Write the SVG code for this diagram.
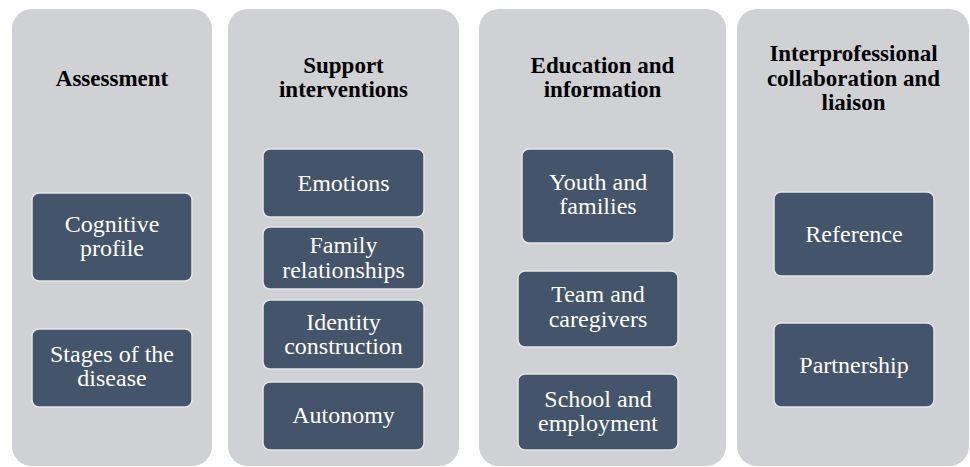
<svg xmlns="http://www.w3.org/2000/svg" width="970" height="467" viewBox="0 0 970 467" font-family="Liberation Serif, Times New Roman, serif">
<style>
.panel{fill:#d0d1d5;}
.box{fill:#44546a;stroke:#e4e5e8;stroke-width:1.5;}
.hd{font-weight:bold;font-size:23px;fill:#000;text-anchor:middle;}
.tx{font-size:24px;fill:#ffffff;text-anchor:middle;}
</style>
<rect width="970" height="467" fill="#ffffff"/>
<g id="assessment">
<rect class="panel" x="12" y="9" width="200" height="457" rx="20"/>
<text class="hd" x="112" y="86">Assessment</text>
</g>
<g id="cognitive-profile">
<rect class="box" x="32" y="193" width="160" height="88" rx="7"/>
<text class="tx" x="112" y="231.5">Cognitive</text>
<text class="tx" x="112" y="255.5">profile</text>
</g>
<g id="stages">
<rect class="box" x="32" y="329" width="160" height="78" rx="7"/>
<text class="tx" x="112" y="361.5">Stages of the</text>
<text class="tx" x="112" y="386">disease</text>
</g>
<g id="support">
<rect class="panel" x="228" y="9" width="231" height="457" rx="20"/>
<text class="hd" x="343.5" y="72.5">Support</text>
<text class="hd" x="343.5" y="97">interventions</text>
</g>
<g id="emotions">
<rect class="box" x="263" y="149" width="161" height="68" rx="7"/>
<text class="tx" x="343.5" y="190.5">Emotions</text>
</g>
<g id="family">
<rect class="box" x="263" y="227" width="161" height="62" rx="7"/>
<text class="tx" x="343.5" y="253">Family</text>
<text class="tx" x="343.5" y="278">relationships</text>
</g>
<g id="identity">
<rect class="box" x="263" y="300" width="161" height="69" rx="7"/>
<text class="tx" x="343.5" y="330">Identity</text>
<text class="tx" x="343.5" y="354">construction</text>
</g>
<g id="autonomy">
<rect class="box" x="263" y="382" width="161" height="68" rx="7"/>
<text class="tx" x="343.5" y="422.5">Autonomy</text>
</g>
<g id="education">
<rect class="panel" x="479" y="9" width="247" height="457" rx="20"/>
<text class="hd" x="602.5" y="72.5">Education and</text>
<text class="hd" x="602.5" y="97">information</text>
</g>
<g id="youth">
<rect class="box" x="522" y="149" width="152" height="94" rx="7"/>
<text class="tx" x="598" y="190">Youth and</text>
<text class="tx" x="598" y="213.5">families</text>
</g>
<g id="team">
<rect class="box" x="518" y="271" width="160" height="76" rx="7"/>
<text class="tx" x="598" y="301.5">Team and</text>
<text class="tx" x="598" y="326.5">caregivers</text>
</g>
<g id="school">
<rect class="box" x="518" y="374" width="160" height="76" rx="7"/>
<text class="tx" x="598" y="406.5">School and</text>
<text class="tx" x="598" y="430.5">employment</text>
</g>
<g id="interprofessional">
<rect class="panel" x="737" y="9" width="232" height="457" rx="20"/>
<text class="hd" x="853.5" y="61">Interprofessional</text>
<text class="hd" x="853.5" y="85.5">collaboration and</text>
<text class="hd" x="853.5" y="110">liaison</text>
</g>
<g id="reference">
<rect class="box" x="774" y="192" width="160" height="84" rx="7"/>
<text class="tx" x="854" y="241.5">Reference</text>
</g>
<g id="partnership">
<rect class="box" x="774" y="323" width="160" height="84" rx="7"/>
<text class="tx" x="854" y="373">Partnership</text>
</g>
<g id="connectors"></g>
</svg>
